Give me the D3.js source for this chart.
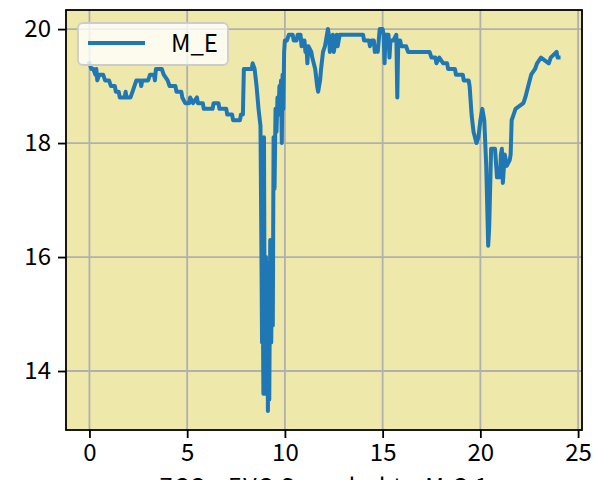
<!DOCTYPE html>
<html><head><meta charset="utf-8">
<script src="https://cdn.jsdelivr.net/npm/d3@7"></script>
<style>
html,body{margin:0;padding:0;background:#fff;}
svg{display:block;}
text{font-family:"Noto Sans CJK JP","Liberation Sans",sans-serif;}
</style></head>
<body><svg id="c" width="594" height="480"></svg>
<script>
const seriesName = "M_E";
const xLabel = "ZCC - EVC Sampled to M C 1";
const xTicks = [0, 5, 10, 15, 20, 25];
const yTicks = [14, 16, 18, 20];
const xs = [0,0.1,0.2,0.3,0.35,0.4,0.5,0.7,0.8,1.0,1.1,1.3,1.35,1.5,1.55,1.8,1.85,1.9,2.1,2.2,2.3,2.4,2.6,2.65,2.7,3.0,3.1,3.3,3.35,3.4,3.7,3.8,4.0,4.1,4.4,4.45,4.7,4.75,4.9,5.1,5.15,5.3,5.5,5.55,5.8,5.85,6.3,6.35,6.6,6.65,7.0,7.05,7.3,7.35,7.7,7.75,7.85,7.9,8.3,8.35,8.45,8.55,8.65,8.75,
8.8,8.83,8.86,8.9,8.93,8.96,9.0,9.03,9.06,9.1,9.13,9.17,9.2,9.25,9.3,9.35,9.38,9.42,9.47,9.52,9.57,9.62,9.67,9.72,9.76,9.8,9.84,9.88,9.92,9.96,10.0,
10.1,10.2,10.4,10.45,10.6,10.65,10.8,10.85,10.9,11.0,11.05,11.1,11.15,11.2,11.35,11.4,11.55,11.65,11.7,11.8,11.85,11.95,12.05,12.15,12.2,12.25,12.3,12.4,12.45,12.5,12.6,12.65,12.7,12.8,13.0,13.5,14.0,14.05,14.3,14.35,14.45,14.55,14.6,14.7,14.75,14.85,15.0,15.05,15.1,15.15,15.3,15.35,15.4,15.55,15.7,15.75,15.8,15.9,15.95,16.2,16.3,17.4,17.5,17.7,17.75,17.9,18.1,18.3,18.35,18.7,18.75,19.1,19.15,19.4,19.45,19.55,19.65,19.8,19.9,20.0,20.1,20.2,20.3,20.4,20.45,20.55,20.75,20.85,21.0,21.05,21.1,21.15,21.25,21.35,21.5,21.55,21.6,21.7,21.8,22.2,22.3,22.45,22.6,22.8,22.9,23.1,23.5,23.6,23.9,23.95,24.0];
const ys = [19.4,19.3,19.3,19.2,19.3,19.1,19.2,19.2,19.1,19.1,19.0,19.0,18.9,18.9,18.8,18.8,18.9,18.8,18.8,18.9,19.0,19.1,19.1,19.0,19.1,19.1,19.2,19.2,19.1,19.3,19.3,19.2,19.1,19.0,19.0,18.9,18.9,18.8,18.7,18.7,18.8,18.7,18.8,18.7,18.7,18.6,18.6,18.7,18.7,18.6,18.6,18.5,18.5,18.4,18.4,18.5,18.5,19.3,19.3,19.4,19.3,19.0,18.6,18.3,
16.0,14.5,15.6,13.6,18.1,15.0,13.6,16.0,13.9,15.5,13.3,15.9,13.5,16.3,14.5,16.3,14.8,18.1,17.2,18.6,18.2,18.8,18.5,19.0,18.7,19.1,18.0,19.2,18.6,19.6,19.8,
19.8,19.9,19.9,19.8,19.8,19.9,19.9,19.7,19.8,19.8,19.6,19.7,19.4,19.7,19.6,19.5,19.3,19.0,18.9,19.1,19.3,19.6,19.7,19.9,20.0,19.9,19.6,19.8,19.9,19.6,19.8,19.9,19.7,19.9,19.9,19.9,19.9,19.8,19.8,19.7,19.8,19.8,19.6,19.7,19.6,20.0,20.0,19.9,19.4,19.9,19.9,19.5,19.8,19.8,19.9,18.8,19.8,19.8,19.7,19.7,19.6,19.6,19.5,19.5,19.4,19.5,19.4,19.4,19.3,19.3,19.2,19.2,19.1,19.1,19.0,18.5,18.2,18.0,18.1,18.4,18.6,18.4,17.6,16.2,16.5,17.9,17.9,17.4,17.4,17.8,17.9,17.3,17.8,17.6,17.7,17.8,18.4,18.5,18.6,18.7,18.8,19.0,19.2,19.3,19.4,19.5,19.4,19.5,19.6,19.5,19.5];

const W = 594, H = 480;
const m = {l:66, r:582, t:10, b:430};
const svg = d3.select("#c");
const x = d3.scaleLinear().domain([-1.2, 25.2]).range([m.l, m.r]);
const y = d3.scaleLinear().domain([12.965, 20.335]).range([m.b, m.t]);

svg.append("rect").attr("x", m.l).attr("y", m.t).attr("width", m.r-m.l).attr("height", m.b-m.t).attr("fill", "#eee8aa");

// grid
const g = svg.append("g");
g.selectAll(".gx").data(xTicks).join("line").attr("x1", d=>x(d)).attr("x2", d=>x(d)).attr("y1", m.t).attr("y2", m.b).attr("stroke", "#b0b0b0").attr("stroke-width", 1.8);
g.selectAll(".gy").data(yTicks).join("line").attr("y1", d=>y(d)).attr("y2", d=>y(d)).attr("x1", m.l).attr("x2", m.r).attr("stroke", "#b0b0b0").attr("stroke-width", 1.8);

// line
const data = xs.map((v,i)=>[v, ys[i]]);
svg.append("defs").append("clipPath").attr("id","clip").append("rect").attr("x", m.l).attr("y", m.t).attr("width", m.r-m.l).attr("height", m.b-m.t);
svg.append("path").datum(data).attr("clip-path","url(#clip)")
  .attr("d", d3.line().x(d=>x(d[0])).y(d=>y(d[1])))
  .attr("fill","none").attr("stroke","#1f77b4").attr("stroke-width",4).attr("stroke-linejoin","round").attr("stroke-linecap","square");

// axes
const xAxis = svg.append("g").attr("transform", `translate(0,${m.b})`)
  .call(d3.axisBottom(x).tickValues(xTicks).tickSize(8).tickPadding(6).tickFormat(d3.format("d")));
const yAxis = svg.append("g").attr("transform", `translate(${m.l},0)`)
  .call(d3.axisLeft(y).tickValues(yTicks).tickSize(8).tickPadding(7).tickFormat(d3.format("d")));
[xAxis, yAxis].forEach(a=>{
  a.select(".domain").remove();
  a.selectAll(".tick line").attr("stroke","#000").attr("stroke-width",1.8);
  a.selectAll(".tick text").attr("fill","#000").style("font-size","24px").style("font-family",'"Noto Sans CJK JP","Liberation Sans",sans-serif');
});
svg.append("rect").attr("x", m.l).attr("y", m.t).attr("width", m.r-m.l).attr("height", m.b-m.t).attr("fill","none").attr("stroke","#000").attr("stroke-width",1.8);

// x label (partially off-canvas as in reference)
svg.append("text").attr("x", (m.l+m.r)/2).attr("y", 495).attr("text-anchor","middle").style("font-size","23px").style("letter-spacing","1.5px").attr("fill","#000").text(xLabel);

// legend
const lg = svg.append("g");
lg.append("rect").attr("x", 78).attr("y", 23).attr("width", 150).attr("height", 42).attr("rx", 5)
  .attr("fill","#ffffff").attr("fill-opacity",0.8).attr("stroke","#cccccc").attr("stroke-width",1.8);
lg.append("line").attr("x1", 88).attr("x2", 145).attr("y1", 43).attr("y2", 43).attr("stroke","#1f77b4").attr("stroke-width",4);
lg.append("text").attr("x", 218).attr("y", 52).attr("text-anchor","end").style("font-size","24px").attr("fill","#000").text(seriesName);
</script></body></html>
